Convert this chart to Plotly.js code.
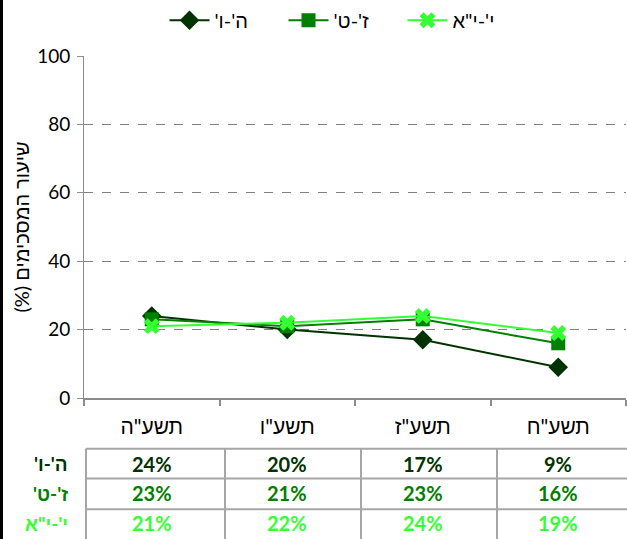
<!DOCTYPE html>
<html>
<head>
<meta charset="utf-8">
<script src="https://cdn.plot.ly/plotly-3.0.1.min.js"></script>
<style>
html,body{margin:0;padding:0;background:#fff;}
#wrap{position:relative;width:627px;height:539px;}
#chart{width:627px;height:539px;}
#frame{position:absolute;left:0;top:0;width:3px;height:539px;background:#000;}
</style>
</head>
<body>
<div id="wrap"><div id="chart"></div><div id="frame"></div></div>
<script>
// ---- data ----
const categories = ['תשע"ה', 'תשע"ו', 'תשע"ז', 'תשע"ח'];
const seriesNames = ["ה'-ו'", "ז'-ט'", 'י\'-י"א'];
const valsHV = [24, 20, 17, 9];
const valsZT = [23, 21, 23, 16];
const valsYYA = [21, 22, 24, 19];
const yTitle = 'שיעור המסכימים (%)';

const RLM = '\u200F';
const rtl = s => RLM + s + RLM;

const colors = ['#003300', '#008000', '#33ff33'];
const symbols = ['diamond', 'square', 'x'];
const sizes = [15, 14, 14];
const allVals = [valsHV, valsZT, valsYYA];
const FONT = "Lato, 'Liberation Sans', sans-serif";

const traces = allVals.map((v, i) => ({
  type: 'scatter',
  mode: 'lines+markers',
  x: categories.map(rtl),
  y: v,
  name: rtl(seriesNames[i]),
  line: {color: colors[i], width: 2},
  marker: {symbol: symbols[i], size: sizes[i], color: colors[i], line: {width: 0}}
}));

// layout geometry (pixels)
const W = 627, H = 539, L = 84, R = 1, T = 54, B = 141;
const pw = W - L - R, ph = H - T - B;
const py = y => (H - B - y) / ph;     // pixel y -> paper
const px = x => (x - L) / pw;         // pixel x -> paper

const shapes = [];
const annotations = [];
// table grid
const lineStyle = {color: '#a6a6a6', width: 2};
[449, 479, 510].forEach(y => shapes.push({type: 'line', xref: 'paper', yref: 'paper',
  x0: px(86), x1: 1.01, y0: py(y), y1: py(y), line: lineStyle}));
[86, 225, 361, 497].forEach(x => shapes.push({type: 'line', xref: 'paper', yref: 'paper',
  x0: px(x), x1: px(x), y0: py(449), y1: py(540), line: lineStyle}));

const rowY = [464, 494, 524];
allVals.forEach((v, r) => {
  annotations.push({xref: 'paper', yref: 'paper', x: px(70), y: py(rowY[r]),
    xanchor: 'right', yanchor: 'middle', showarrow: false,
    text: '<b>' + rtl(seriesNames[r]) + '</b>',
    font: {family: FONT, size: 19, color: colors[r]}});
  v.forEach((val, c) => {
    annotations.push({xref: 'x', yref: 'paper', x: rtl(categories[c]), y: py(rowY[r]),
      xanchor: 'center', yanchor: 'middle', showarrow: false,
      text: '<b>' + val + '%</b>',
      font: {family: FONT, size: 20, color: colors[r]}});
  });
});

const layout = {
  width: W, height: H,
  margin: {l: L, r: R, t: T, b: B, pad: 0},
  paper_bgcolor: '#fff', plot_bgcolor: '#fff',
  font: {family: FONT, size: 18, color: '#000'},
  showlegend: true,
  legend: {orientation: 'h', x: px(343), xanchor: 'center', y: py(18), yanchor: 'middle',
    font: {family: FONT, size: 20, color: '#000'}, entrywidth: 64, entrywidthmode: 'pixels',
    itemwidth: 40, bgcolor: 'rgba(0,0,0,0)'},
  xaxis: {
    type: 'category', range: [-0.5, 3.5], fixedrange: true,
    showline: true, linecolor: '#8c8c8c', linewidth: 2,
    ticks: 'outside', tickson: 'boundaries', ticklen: 6, tickcolor: '#8c8c8c', tickwidth: 2,
    ticklabelstandoff: 9,
    showgrid: false, tickfont: {family: FONT, size: 21, color: '#000'}, automargin: false
  },
  yaxis: {
    range: [0, 100], dtick: 20, tick0: 0, fixedrange: true,
    showline: true, linecolor: '#8c8c8c', linewidth: 1,
    ticks: 'outside', ticklen: 6, tickcolor: '#8c8c8c', tickwidth: 1,
    ticklabelstandoff: 3,
    showgrid: true, gridcolor: '#808080', griddash: 'dash', gridwidth: 1,
    zeroline: false, automargin: false,
    tickfont: {family: FONT, size: 19, color: '#000'},
    title: {text: rtl(yTitle), font: {family: FONT, size: 20, color: '#000'}, standoff: 2}
  },
  shapes: shapes,
  annotations: annotations
};

Plotly.newPlot('chart', traces, layout, {displayModeBar: false, staticPlot: true});
</script>
</body>
</html>
